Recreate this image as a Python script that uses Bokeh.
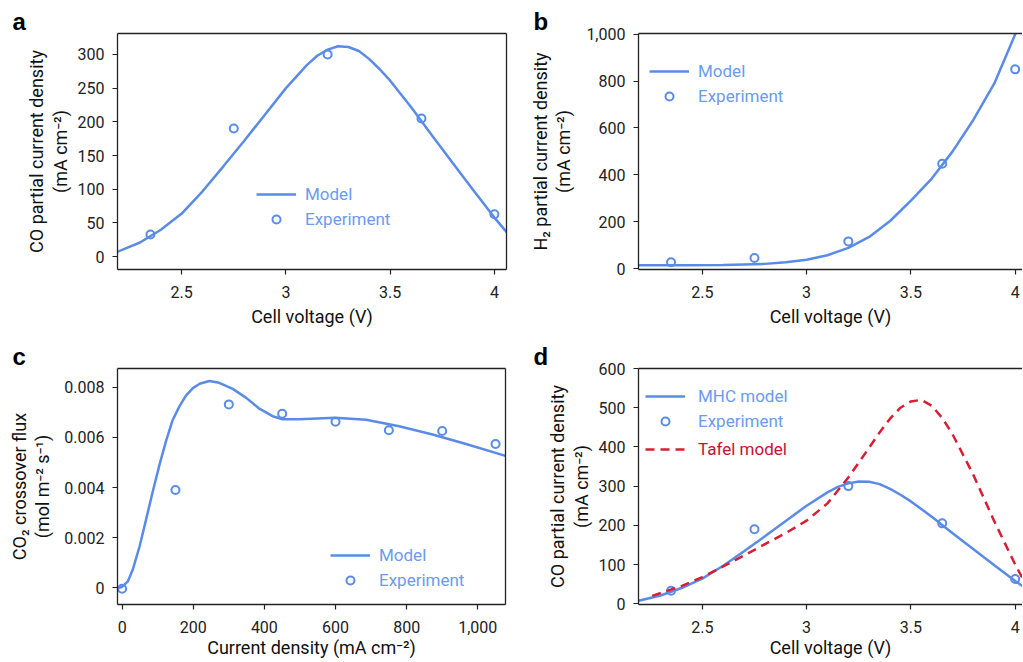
from bokeh.plotting import figure
from bokeh.models import (Range1d, FixedTicker, LinearAxis, Legend, LegendItem,
                          CustomJSTickFormatter, NumeralTickFormatter)
from bokeh.layouts import column, row
from bokeh.embed import file_html
from bokeh.resources import INLINE

# ---------------- data ----------------
# Panel a / d : CO partial current density model (MHC) and experiment
co_model_v = [2.19, 2.3, 2.4, 2.5, 2.6, 2.7, 2.8, 2.9, 3.0, 3.1, 3.15, 3.2, 3.25, 3.3, 3.35, 3.4, 3.45, 3.5,
              3.6, 3.7, 3.8, 3.9, 4.0, 4.06]
co_model_j = [7, 21, 40, 64, 97, 134, 172, 211, 250, 284, 298, 307, 312, 311, 305, 293, 278, 261,
              222, 180, 139, 98, 58, 36]
exp_v = [2.35, 2.75, 3.2, 3.65, 4.0]
co_exp_j = [33, 190, 300, 205, 63]

# Panel b : H2 partial current density
h2_model_v = [2.19, 2.4, 2.6, 2.8, 2.9, 3.0, 3.1, 3.2, 3.3, 3.4, 3.5, 3.6, 3.7, 3.8, 3.9, 4.0, 4.04]
h2_model_j = [14, 14, 15, 20, 27, 38, 57, 88, 135, 203, 290, 384, 500, 635, 790, 1000, 1080]
h2_exp_j = [27, 45, 116, 447, 850]

# Panel c : CO2 crossover flux
cx_model_i = [-13, 0, 16, 30, 49, 67, 86, 105, 124, 142, 161, 180, 199, 218, 245, 273, 311, 348, 386, 423, 452,
              498, 599, 686, 779, 873, 967, 1078]
cx_model_f = [0.0, 0.00004, 0.00026, 0.00073, 0.00165, 0.0027, 0.00383, 0.0049, 0.00588, 0.00668, 0.00723,
              0.00767, 0.00796, 0.00813, 0.00824, 0.00817, 0.00793, 0.00758, 0.00714, 0.00684, 0.00672,
              0.00672, 0.00678, 0.0067, 0.00644, 0.00611, 0.00573, 0.00526]
cx_exp_i = [0, 150, 300, 450, 600, 750, 900, 1050]
cx_exp_f = [-0.00003, 0.0039, 0.00731, 0.00694, 0.00662, 0.00628, 0.00625, 0.00573]

# Panel d : Tafel model
tafel_v = [2.26, 2.4, 2.5, 2.6, 2.7, 2.8, 2.9, 3.0, 3.1, 3.2, 3.3, 3.35, 3.4, 3.45, 3.5, 3.55, 3.6, 3.65,
           3.7, 3.8, 3.9, 4.0, 4.04]
tafel_j = [20, 45, 68, 95, 123, 152, 180, 212, 256, 322, 398, 437, 472, 500, 516, 520, 505, 474,
           432, 328, 210, 100, 60]

volt_ticks = [2.5, 3, 3.5, 4]
a_yticks = [0, 50, 100, 150, 200, 250, 300]
b_yticks = [0, 200, 400, 600, 800, 1000]
c_xticks = [0, 200, 400, 600, 800, 1000]
c_yticks = [0, 0.002, 0.004, 0.006, 0.008]
d_yticks = [0, 100, 200, 300, 400, 500, 600]

# ---------------- style ----------------
FONT = "Roboto"
BLUE = "#5a8be6"
BLUE_TXT = "#6b9bef"
RED = "#d81e34"
RED_TXT = "#c8102e"
AX = "#222222"

volt_fmt = CustomJSTickFormatter(code="return String(Math.round(tick*10)/10);")


def make_fig(w, h, left, right, top, bottom, xr, yr, right_border, letter, letter_offset):
    p = figure(width=w, height=h, output_backend="svg", toolbar_location=None,
               x_range=Range1d(*xr), y_range=Range1d(*yr),
               min_border_left=left, min_border_right=right,
               min_border_top=top, min_border_bottom=bottom)
    p.grid.visible = False
    p.outline_line_color = None
    p.background_fill_color = "white"
    p.border_fill_color = "white"
    p.title.text = letter
    p.title.align = "left"
    p.title.offset = letter_offset
    try:
        p.title.standoff = -3
    except Exception:
        p.title.standoff = 0
    p.title.text_font = "Liberation Sans"
    p.title.text_font_style = "bold"
    p.title.text_font_size = "24px"
    p.title.text_color = "black"
    xax = p.below[0]
    yax = p.left[0]
    for ax in (xax, yax):
        ax.minor_tick_line_color = None
        ax.major_tick_in = 0
        ax.major_tick_out = 5
        ax.major_tick_line_color = AX
        ax.major_tick_line_width = 1.2
        ax.axis_line_color = AX
        ax.axis_line_width = 1.3
        ax.major_label_text_font = FONT
        ax.major_label_text_font_size = "16px"
        ax.major_label_text_color = "#222222"
        ax.axis_label_text_font = FONT
        ax.axis_label_text_font_size = "18px"
        ax.axis_label_text_font_style = "normal"
        ax.axis_label_text_color = "#111111"
    xax.major_label_standoff = 11
    yax.major_label_standoff = 8
    yax.axis_label_text_line_height = 1.1
    borders = [("above", LinearAxis())]
    if right_border:
        borders.append(("right", LinearAxis()))
    for side, b in borders:
        b.ticker = FixedTicker(ticks=[])
        b.major_tick_line_color = None
        b.minor_tick_line_color = None
        b.major_tick_out = 0
        b.major_tick_in = 0
        b.major_label_standoff = 0
        b.major_label_text_font_size = "0px"
        b.axis_line_color = AX
        b.axis_line_width = 1.3
        p.add_layout(b, side)
    return p, xax, yax


def add_legend(p, items, loc, color, standoff=9):
    leg = Legend(items=[LegendItem(label=l, renderers=[r]) for l, r in items],
                 location=loc, orientation="vertical", glyph_width=40, glyph_height=20,
                 label_height=20, spacing=5, padding=0, margin=0, label_standoff=standoff,
                 border_line_color=None, background_fill_alpha=0,
                 label_text_color=color, label_text_font=FONT, label_text_font_size="17px")
    p.add_layout(leg)


# ---------------- panel a ----------------
pa, xa, ya = make_fig(527, 337, 117, 21, 32, 68, (2.192, 4.058), (-19, 331), True, "a", -105)
la = pa.line(co_model_v, co_model_j, line_color=BLUE, line_width=2.5)
sa = pa.scatter(exp_v, co_exp_j, marker="circle", size=8, fill_color=None, line_color=BLUE, line_width=2)
xa.ticker = FixedTicker(ticks=volt_ticks)
xa.formatter = volt_fmt
ya.ticker = FixedTicker(ticks=a_yticks)
xa.axis_label = "Cell voltage (V)"
ya.axis_label = "CO partial current density\n(mA cm\u207b\u00b2)"
xa.axis_label_standoff = 5
ya.axis_label_standoff = 4
add_legend(pa, [("Model", la), ("Experiment", sa)], (139, 40), BLUE_TXT)

# ---------------- panel b ----------------
pb, xb, yb = make_fig(495, 337, 111, 0, 33, 68, (2.194, 4.035), (-4, 1003), False, "b", -105)
lb = pb.line(h2_model_v, h2_model_j, line_color=BLUE, line_width=2.5)
sb = pb.scatter(exp_v, h2_exp_j, marker="circle", size=8, fill_color=None, line_color=BLUE, line_width=2)
xb.ticker = FixedTicker(ticks=volt_ticks)
xb.formatter = volt_fmt
yb.ticker = FixedTicker(ticks=b_yticks)
yb.formatter = NumeralTickFormatter(format="0,0")
xb.axis_label = "Cell voltage (V)"
yb.axis_label = "H\u2082 partial current density\n(mA cm\u207b\u00b2)"
xb.axis_label_standoff = 5
yb.axis_label_standoff = 9
add_legend(pb, [("Model", lb), ("Experiment", sb)], (11, 163), BLUE_TXT)

# ---------------- panel c ----------------
pc, xc, yc = make_fig(527, 324, 117, 22, 30, 57, (-13, 1078), (-0.00066, 0.00874), True, "c", -105)
lc = pc.line(cx_model_i, cx_model_f, line_color=BLUE, line_width=2.5)
sc = pc.scatter(cx_exp_i, cx_exp_f, marker="circle", size=8, fill_color=None, line_color=BLUE, line_width=2)
xc.ticker = FixedTicker(ticks=c_xticks)
xc.formatter = NumeralTickFormatter(format="0,0")
yc.ticker = FixedTicker(ticks=c_yticks)
yc.formatter = CustomJSTickFormatter(code="return Math.abs(tick) < 1e-9 ? '0' : tick.toFixed(3);")
xc.axis_label = "Current density (mA cm\u207b\u00b2)"
yc.axis_label = "CO\u2082 crossover flux\n(mol m\u207b\u00b2 s\u207b\u00b9)"
xc.axis_label_standoff = 1
yc.axis_label_standoff = 8
add_legend(pc, [("Model", lc), ("Experiment", sc)], (213, 14), BLUE_TXT)

# ---------------- panel d ----------------
pd_, xd, yd = make_fig(495, 324, 111, 0, 31, 57, (2.194, 4.035), (-2, 600), False, "d", -105)
ld = pd_.line(co_model_v, co_model_j, line_color=BLUE, line_width=2.5)
sd = pd_.scatter(exp_v, co_exp_j, marker="circle", size=8, fill_color=None, line_color=BLUE, line_width=2)
td = pd_.line(tafel_v, tafel_j, line_color=RED, line_width=2.5, line_dash="9 6")
xd.ticker = FixedTicker(ticks=volt_ticks)
xd.formatter = volt_fmt
yd.ticker = FixedTicker(ticks=d_yticks)
xd.axis_label = "Cell voltage (V)"
yd.axis_label = "CO partial current density\n(mA cm\u207b\u00b2)"
xd.axis_label_standoff = 1
yd.axis_label_standoff = 4
add_legend(pd_, [("MHC model", ld), ("Experiment", sd)], (7, 173), BLUE_TXT, standoff=13)
add_legend(pd_, [("Tafel model", td)], (7, 145), RED_TXT, standoff=13)

layout = column(row(pa, pb), row(pc, pd_))
open("out.html", "w").write(file_html(layout, INLINE))
